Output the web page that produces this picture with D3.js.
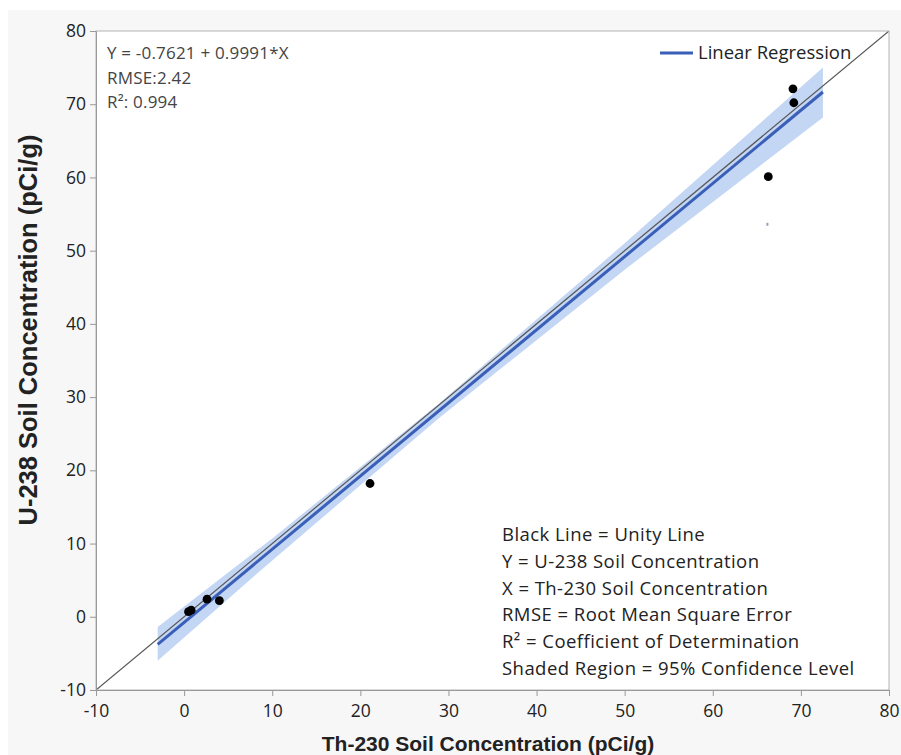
<!DOCTYPE html>
<html><head><meta charset="utf-8">
<script src="https://cdn.jsdelivr.net/npm/d3@7"></script>
<style>body{margin:0;background:#fff;} svg{display:block;}</style>
</head><body>
<svg id="c" width="901" height="755"></svg>
<script>
// ---- data ----
const pointsX = [69.1, 69.2, 66.3, 21.1, 4.0, 2.6, 0.8, 0.5];
const pointsY = [72.1, 70.2, 60.1, 18.2, 2.2, 2.4, 0.9, 0.7];
const regX = [-3.0, 72.5];
const regY = [-3.76, 71.67];
const bandX  = [-3.0, 10, 29, 50, 72.5];
const bandLo = [-6.0, 7.7, 27.2, 47.4, 68.2];
const bandHi = [-1.4, 10.7, 29.2, 51.0, 75.0];
const unityX = [-10, 80];
const unityY = [-10, 80];
const xTicks = [-10, 0, 10, 20, 30, 40, 50, 60, 70, 80];
const yTicks = [-10, 0, 10, 20, 30, 40, 50, 60, 70, 80];
const artifactX = [66.2], artifactY = [53.6];
const statsLines = ["Y = -0.7621 + 0.9991*X", "RMSE:2.42", "R²: 0.994"];
const noteLines = ["Black Line = Unity Line", "Y = U-238 Soil Concentration", "X = Th-230 Soil Concentration",
  "RMSE = Root Mean Square Error", "R² = Coefficient of Determination", "Shaded Region = 95% Confidence Level"];
const legendLabel = "Linear Regression";
const xTitle = "Th-230 Soil Concentration (pCi/g)";
const yTitle = "U-238 Soil Concentration (pCi/g)";

// ---- layout ----
const svg = d3.select("#c");
const L = 96, R = 889, T = 31, B = 690;
const x = d3.scaleLinear().domain([-10, 80]).range([L, R]);
const y = d3.scaleLinear().domain([-10, 80]).range([B, T]);
const font = "'Open Sans', 'Noto Sans', sans-serif";

svg.append("rect").attr("x", 8).attr("y", 10).attr("width", 893).attr("height", 745).attr("fill", "#f7f7f7");
svg.append("rect").attr("x", L).attr("y", T).attr("width", R - L).attr("height", B - T).attr("fill", "#fff");

svg.append("defs").append("clipPath").attr("id", "clip")
  .append("rect").attr("x", L).attr("y", T).attr("width", R - L).attr("height", B - T);
const g = svg.append("g").attr("clip-path", "url(#clip)");

// band
const band = bandX.map((v, i) => ({x: v, lo: bandLo[i], hi: bandHi[i]}));
g.append("path").datum(band)
  .attr("d", d3.area().x(d => x(d.x)).y0(d => y(d.lo)).y1(d => y(d.hi)))
  .attr("fill", "#c3d6f4");

// unity
g.append("line").attr("x1", x(unityX[0])).attr("y1", y(unityY[0])).attr("x2", x(unityX[1])).attr("y2", y(unityY[1]))
  .attr("stroke", "#555").attr("stroke-width", 1.2);

// regression
g.append("line").attr("x1", x(regX[0])).attr("y1", y(regY[0])).attr("x2", x(regX[1])).attr("y2", y(regY[1]))
  .attr("stroke", "#3a5fb8").attr("stroke-width", 3);

// points
g.selectAll("circle.p").data(pointsX.map((v, i) => [v, pointsY[i]])).enter().append("circle")
  .attr("cx", d => x(d[0])).attr("cy", d => y(d[1])).attr("r", 4.4).attr("fill", "#000");
g.selectAll("rect.a").data(artifactX.map((v, i) => [v, artifactY[i]])).enter().append("rect")
  .attr("x", d => x(d[0]) - 1).attr("y", d => y(d[1]) - 1.5).attr("width", 2).attr("height", 3).attr("fill", "#9aa0c0");

// frame
svg.append("rect").attr("x", L).attr("y", T).attr("width", R - L).attr("height", B - T)
  .attr("fill", "none").attr("stroke", "#b4b4b4").attr("stroke-width", 1);

// axes
const xa = svg.append("g").attr("transform", `translate(0,${B})`)
  .call(d3.axisBottom(x).tickValues(xTicks).tickSize(6).tickPadding(9));
const ya = svg.append("g").attr("transform", `translate(${L},0)`)
  .call(d3.axisLeft(y).tickValues(yTicks).tickSize(6).tickPadding(4));
[xa, ya].forEach(a => {
  a.select(".domain").attr("stroke", "#999");
  a.selectAll(".tick line").attr("stroke", "#999");
  a.selectAll(".tick text").attr("fill", "#222").attr("font-family", font).attr("font-size", 17.5);
});
xa.selectAll(".tick text").text(d => d < 0 ? "-" + Math.abs(d) : d);
ya.selectAll(".tick text").text(d => d < 0 ? "-" + Math.abs(d) : d);

// titles
svg.append("text").attr("x", 488).attr("y", 751).attr("text-anchor", "middle")
  .attr("font-family", "'Liberation Sans', Arial, sans-serif").attr("font-weight", "bold").attr("font-size", 21)
  .attr("fill", "#222").text(xTitle);
svg.append("text").attr("transform", `translate(37,330) rotate(-90)`).attr("text-anchor", "middle")
  .attr("font-family", "'Liberation Sans', Arial, sans-serif").attr("font-weight", "bold").attr("font-size", 25.5)
  .attr("fill", "#222").text(yTitle);

// stats text
svg.selectAll("text.s").data(statsLines).enter().append("text")
  .attr("x", 107).attr("y", (d, i) => 59 + i * 24.5)
  .attr("font-family", font).attr("font-size", 17).attr("letter-spacing", 0.2).attr("fill", "#444").text(d => d);

// notes
svg.selectAll("text.n").data(noteLines).enter().append("text")
  .attr("x", 502).attr("y", (d, i) => 541 + i * 26.8)
  .attr("font-family", font).attr("font-size", 18.5).attr("letter-spacing", 0.45).attr("fill", "#222").text(d => d);

// legend
svg.append("line").attr("x1", 660).attr("x2", 693).attr("y1", 53).attr("y2", 53)
  .attr("stroke", "#3a5fb8").attr("stroke-width", 3);
svg.append("text").attr("x", 698).attr("y", 59).attr("font-family", font).attr("font-size", 18.5)
  .attr("fill", "#222").text(legendLabel);
</script>
</body></html>
